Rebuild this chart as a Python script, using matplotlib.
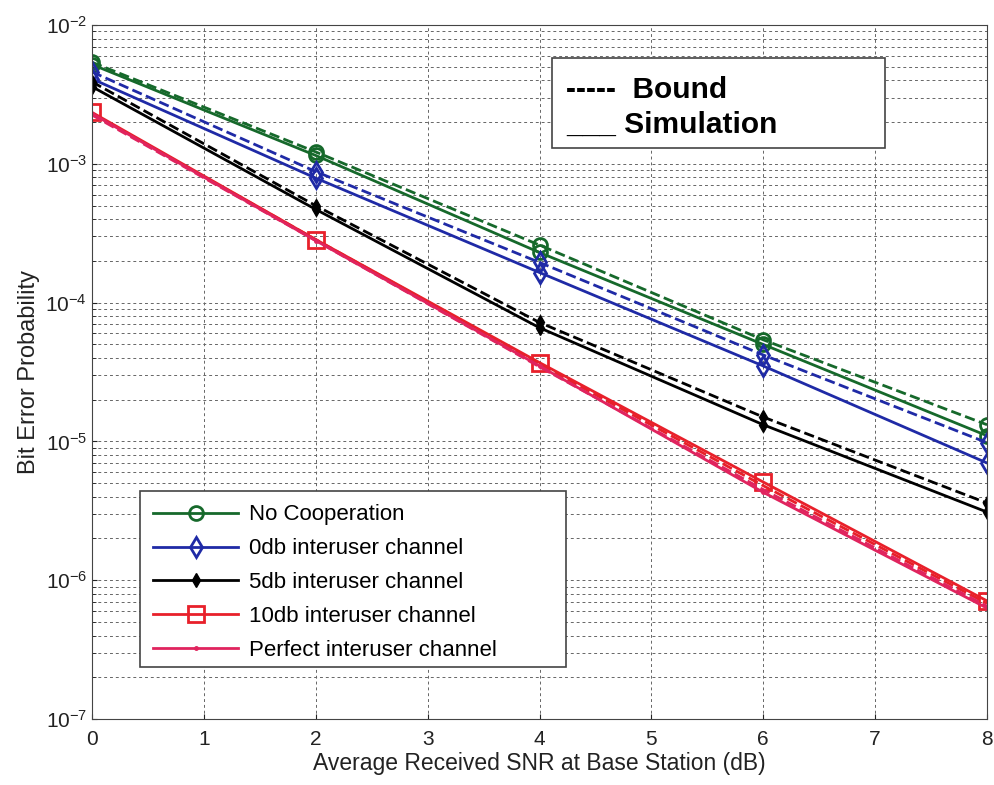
import numpy as np
import matplotlib.pyplot as plt
from matplotlib.ticker import LogLocator, NullFormatter
from matplotlib.patches import Rectangle

plt.rcParams['font.family'] = ['Liberation Sans', 'DejaVu Sans']
plt.rcParams['mathtext.fontset'] = 'custom'
plt.rcParams['mathtext.rm'] = 'Liberation Sans'
plt.rcParams['mathtext.it'] = 'Liberation Sans'
plt.rcParams['mathtext.default'] = 'regular'

snr = np.array([0, 2, 4, 6, 8])

# simulation (solid) and bound (dashed) curves
nocoop_sim = np.array([5.2e-3, 1.15e-3, 2.3e-4, 5.0e-5, 1.1e-5])
nocoop_bound = np.array([5.4e-3, 1.22e-3, 2.6e-4, 5.4e-5, 1.32e-5])
db0_sim = np.array([4.1e-3, 7.9e-4, 1.65e-4, 3.5e-5, 7.0e-6])
db0_bound = np.array([4.6e-3, 8.8e-4, 1.95e-4, 4.2e-5, 9.8e-6])
db5_sim = np.array([3.6e-3, 4.7e-4, 6.6e-5, 1.32e-5, 3.1e-6])
db5_bound = np.array([3.9e-3, 5.0e-4, 7.2e-5, 1.5e-5, 3.6e-6])
db10_sim = np.array([2.35e-3, 2.85e-4, 3.7e-5, 5.1e-6, 7.1e-7])
db10_bound = np.array([2.3e-3, 2.85e-4, 3.6e-5, 4.8e-6, 6.8e-7])
perf_sim = np.array([2.3e-3, 2.8e-4, 3.5e-5, 4.3e-6, 6.3e-7])
perf_bound = np.array([2.25e-3, 2.8e-4, 3.45e-5, 4.5e-6, 6.5e-7])

labels = ["No Cooperation", "0db interuser channel", "5db interuser channel",
          "10db interuser channel", "Perfect interuser channel"]

green = '#16692b'
blue = '#1f2aa6'
black = '#000000'
red = '#e8202a'
pink = '#e0245e'

fig = plt.figure(figsize=(9.95, 7.85), dpi=100)
ax = fig.add_axes([0.0925, 0.084, 0.8995, 0.884])

ax.semilogy(snr, nocoop_bound, '--', color=green, lw=2, marker='o', ms=10, mfc='none', mew=2)
ax.semilogy(snr, nocoop_sim, '-', color=green, lw=2, marker='o', ms=10, mfc='none', mew=2, label=labels[0])
ax.semilogy(snr, db0_bound, '--', color=blue, lw=2, marker='d', ms=10, mfc='none', mew=2)
ax.semilogy(snr, db0_sim, '-', color=blue, lw=2, marker='d', ms=10, mfc='none', mew=2, label=labels[1])
ax.semilogy(snr, db5_bound, '--', color=black, lw=2, marker='d', ms=7)
ax.semilogy(snr, db5_sim, '-', color=black, lw=2, marker='d', ms=7, label=labels[2])
ax.semilogy(snr, db10_bound, '--', color=red, lw=2)
ax.semilogy(snr, db10_sim, '-', color=red, lw=2, marker='s', ms=11, mfc='none', mew=2, label=labels[3])
ax.semilogy(snr, perf_bound, '--', color=pink, lw=2)
ax.semilogy(snr, perf_sim, '-', color=pink, lw=2, marker='.', ms=5, label=labels[4])

ax.set_xlim(0, 8)
ax.set_ylim(1e-7, 1e-2)
ax.set_xticks(range(9))
ax.yaxis.set_major_locator(LogLocator(base=10, numticks=10))
ax.yaxis.set_minor_locator(LogLocator(base=10, subs=np.arange(2, 10), numticks=20))
ax.yaxis.set_minor_formatter(NullFormatter())
ax.tick_params(which='both', direction='in', labelsize=15, colors='#222222')
ax.tick_params(which='minor', length=3)
ax.tick_params(axis='x', pad=8)
for s in ax.spines.values():
    s.set_color('#444444')
ax.grid(True, which='major', linestyle=(0, (3, 3)), color='#666666', lw=0.7)
ax.grid(True, which='minor', axis='y', linestyle=(0, (3, 3)), color='#666666', lw=0.7)

ax.set_xlabel("Average Received SNR at Base Station (dB)", fontsize=16.5, color='#222222', labelpad=2)
ax.set_ylabel("Bit Error Probability", fontsize=17, color='#222222', labelpad=4)

# legend box drawn separately (wide right margin as in the original)
ax.add_patch(Rectangle((0.0536, 0.0749), 0.476, 0.2536, transform=ax.transAxes,
                       facecolor='white', edgecolor='#444444', lw=1.2, zorder=4))
leg = ax.legend(loc='upper left', bbox_to_anchor=(0.0536, 0.3285), borderaxespad=0,
                fontsize=16, frameon=False,
                handlelength=3.8, handletextpad=0.5, borderpad=0.6, labelspacing=0.58)

# Bound / Simulation key box
ax.add_patch(Rectangle((0.514, 0.823), 0.372, 0.129, transform=ax.transAxes,
                       facecolor='white', edgecolor='#444444', lw=1.2, zorder=5))
ax.text(0.53, 0.906, "-----  Bound", transform=ax.transAxes, fontsize=21.5,
        fontweight='bold', va='center', ha='left', zorder=6)
ax.text(0.53, 0.856, "___ Simulation", transform=ax.transAxes, fontsize=21.5,
        fontweight='bold', va='center', ha='left', zorder=6)

plt.savefig('out.png', dpi=100)
